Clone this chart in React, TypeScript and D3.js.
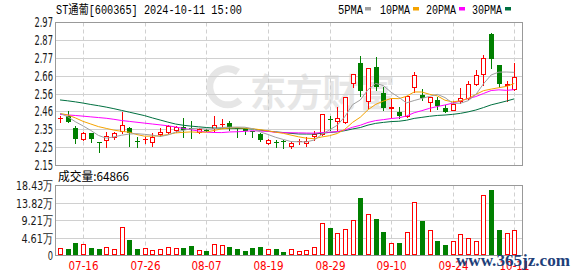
import React from "react";
import * as d3 from "d3";

const dates = [
  "07-11","07-12","07-15","07-16","07-17","07-18","07-19","07-22","07-23","07-24",
  "07-25","07-26","07-29","07-30","07-31","08-01","08-02","08-05","08-06","08-07",
  "08-08","08-09","08-12","08-13","08-14","08-15","08-16","08-19","08-20","08-21",
  "08-22","08-23","08-26","08-27","08-28","08-29","08-30","09-02","09-03","09-04",
  "09-05","09-06","09-09","09-10","09-11","09-12","09-13","09-18","09-19","09-20",
  "09-23","09-24","09-25","09-26","09-27","09-30","10-08","10-09","10-10","10-11",
];

const opens = [
  2.418, 2.433, 2.36, 2.299, 2.332, 2.28, 2.293, 2.312, 2.345, 2.36,
  2.29, 2.297, 2.284, 2.326, 2.341, 2.35, 2.37, 2.362, 2.338, 2.352,
  2.36, 2.383, 2.389, 2.362, 2.362, 2.343, 2.326, 2.275, 2.28, 2.286,
  2.261, 2.285, 2.275, 2.318, 2.327, 2.414, 2.404, 2.395, 2.618, 2.733,
  2.517, 2.712, 2.565, 2.479, 2.452, 2.433, 2.595, 2.553, 2.514, 2.521,
  2.479, 2.464, 2.515, 2.534, 2.616, 2.674, 2.903, 2.722, 2.607, 2.588,
];
const highs = [
  2.433, 2.46, 2.375, 2.338, 2.335, 2.28, 2.338, 2.341, 2.452, 2.366,
  2.31, 2.312, 2.332, 2.36, 2.38, 2.375, 2.42, 2.403, 2.36, 2.358,
  2.433, 2.414, 2.403, 2.362, 2.362, 2.345, 2.332, 2.3, 2.293, 2.293,
  2.288, 2.297, 2.309, 2.345, 2.442, 2.43, 2.48, 2.538, 2.672, 2.775,
  2.705, 2.77, 2.6, 2.536, 2.484, 2.546, 2.684, 2.586, 2.542, 2.54,
  2.492, 2.515, 2.592, 2.63, 2.696, 2.783, 2.905, 2.722, 2.63, 2.737,
];
const lows = [
  2.398, 2.395, 2.275, 2.292, 2.284, 2.223, 2.255, 2.299, 2.332, 2.26,
  2.255, 2.275, 2.26, 2.318, 2.332, 2.34, 2.312, 2.303, 2.332, 2.345,
  2.345, 2.366, 2.35, 2.312, 2.326, 2.312, 2.288, 2.27, 2.255, 2.25,
  2.25, 2.268, 2.26, 2.295, 2.32, 2.35, 2.35, 2.39, 2.6, 2.546,
  2.475, 2.578, 2.465, 2.427, 2.418, 2.426, 2.57, 2.524, 2.458, 2.47,
  2.454, 2.464, 2.507, 2.527, 2.607, 2.607, 2.708, 2.6, 2.517, 2.582,
];
const closes = [
  2.42, 2.395, 2.297, 2.332, 2.297, 2.276, 2.318, 2.332, 2.38, 2.332,
  2.286, 2.299, 2.309, 2.341, 2.375, 2.368, 2.35, 2.357, 2.355, 2.348,
  2.38, 2.386, 2.366, 2.357, 2.345, 2.338, 2.293, 2.293, 2.276, 2.282,
  2.278, 2.288, 2.288, 2.33, 2.442, 2.41, 2.418, 2.538, 2.672, 2.577,
  2.705, 2.597, 2.475, 2.482, 2.431, 2.546, 2.665, 2.536, 2.54, 2.488,
  2.454, 2.502, 2.536, 2.613, 2.664, 2.764, 2.756, 2.616, 2.616, 2.655,
];
const volumes = [
  17800, 16000, 32000, 28400, 18600, 16000, 20400, 15100, 73700, 39900,
  16000, 17800, 13300, 15100, 22000, 18600, 18600, 24000, 12500, 10600,
  28400, 25800, 21300, 16000, 10600, 18600, 21300, 15100, 16000, 8800,
  15100, 10600, 13300, 20400, 84300, 71000, 57700, 68400, 93100, 150800,
  109100, 95800, 61200, 31100, 31900, 60400, 140200, 90500, 65700, 37200,
  26600, 37200, 55000, 44400, 37200, 157000, 170300, 66500, 57700, 64866,
];

// moving-average values before a full window of visible closes exists
const ma5Head = [2.446, 2.427, 2.398, 2.374];
const ma10Head = [2.446, 2.437, 2.42, 2.4, 2.385, 2.37, 2.36, 2.35, 2.343];
const ma20Head = [
  2.44, 2.437, 2.434, 2.43, 2.426, 2.422, 2.418, 2.412, 2.405, 2.4,
  2.395, 2.39, 2.385, 2.38, 2.375, 2.368, 2.36, 2.352, 2.345,
];
const ma30Head = [
  2.523, 2.518, 2.512, 2.505, 2.497, 2.49, 2.482, 2.473, 2.463, 2.453,
  2.443, 2.433, 2.42, 2.408, 2.396, 2.385, 2.378, 2.373, 2.369, 2.365,
  2.362, 2.361, 2.36, 2.36, 2.359, 2.356, 2.35, 2.344, 2.34,
];

const priceTickLabels = ["2.97", "2.87", "2.77", "2.66", "2.56", "2.46", "2.35", "2.25", "2.15"];
const volTickLabels = ["18.43万", "13.82万", "9.21万", "4.61万", "0"];
const xTickDates = ["07-16", "07-26", "08-07", "08-19", "08-29", "09-10", "09-24", "10-11"];
const legendNames = ["5PMA", "10PMA", "20PMA", "30PMA"];

const UP = "#ff0000";
const DOWN = "#008000";
const MA_COLORS = ["#a0a0a0", "#f5a300", "#ff00ff", "#007040"];
const GRID = "#d0d0d0";
const FRAME = "#999999";

function movingAvg(n: number, head: number[]): number[] {
  return closes.map((_, i) =>
    i < n - 1 ? head[i] : (d3.mean(closes.slice(i - n + 1, i + 1)) as number)
  );
}

function labelWidth(s: string): number {
  let w = 0;
  for (const ch of s) {
    if (ch === ".") w += 2.7;
    else if (ch === "万") w += 13;
    else if (ch === "-") w += 4;
    else w += 5.3;
  }
  return w;
}

export default function App() {
  const W = 578;
  const H = 276;
  const x = d3.scaleLinear().domain([0, dates.length - 1]).range([60, 514.3]);
  const yP = d3.scaleLinear().domain([2.15, 2.97]).range([165, 22]);
  const yV = d3.scaleLinear().domain([0, 184300]).range([255, 185]);

  const left = 55.5;
  const right = 522.5;
  const pTop = Math.round(yP(2.97)) + 0.5;
  const pBot = Math.round(yP(2.15)) + 0.5;
  const vTop = Math.round(yV(184300)) + 0.5;
  const vBot = Math.round(yV(0)) + 0.5;

  const pTicks = priceTickLabels.map((lab, k) => ({
    lab,
    y: Math.round(yP(2.97 - (k * (2.97 - 2.15)) / (priceTickLabels.length - 1))) + 0.5,
  }));
  const vTicks = volTickLabels.map((lab, k) => ({
    lab,
    y: Math.round(yV(184300 - (k * 184300) / (volTickLabels.length - 1))) + 0.5,
  }));
  const xTicks = xTickDates.map((d) => {
    const i = dates.indexOf(d);
    return { d, x: Math.round(x(i)) + 0.5 };
  });

  const mas = [
    movingAvg(5, ma5Head),
    movingAvg(10, ma10Head),
    movingAvg(20, ma20Head),
    movingAvg(30, ma30Head),
  ];
  const line = d3
    .line<number>()
    .x((_, i) => x(i))
    .y((v) => yP(v));

  const isUp = (i: number) =>
    closes[i] > opens[i] || (closes[i] === opens[i] && (i === 0 || closes[i] >= closes[i - 1]));

  const candles = dates.map((d, i) => {
    const cx = Math.round(x(i));
    const o = opens[i];
    const c = closes[i];
    const yTop = Math.round(yP(Math.max(o, c)));
    const yBot = Math.round(yP(Math.min(o, c)));
    const yH = Math.round(yP(highs[i]));
    const yL = Math.round(yP(lows[i]));
    const up = isUp(i);
    const col = up ? UP : DOWN;
    const bodyH = yBot - yTop;
    if (up) {
      return (
        <g key={d}>
          {yH < yTop && <line x1={cx + 0.5} x2={cx + 0.5} y1={yH} y2={yTop} stroke={col} />}
          {yL > yBot && <line x1={cx + 0.5} x2={cx + 0.5} y1={yBot + 1} y2={yL + 1} stroke={col} />}
          {bodyH >= 1 ? (
            <rect x={cx - 1.5} y={yTop + 0.5} width={4} height={bodyH} fill="#fff" stroke={col} />
          ) : (
            <line x1={cx - 2} x2={cx + 3} y1={yTop + 0.5} y2={yTop + 0.5} stroke={col} />
          )}
        </g>
      );
    }
    return (
      <g key={d}>
        <line x1={cx + 0.5} x2={cx + 0.5} y1={yH} y2={yL + 1} stroke={col} />
        <rect x={cx - 2} y={yTop} width={5} height={Math.max(bodyH, 1)} fill={col} />
      </g>
    );
  });

  const vbars = volumes.map((v, i) => {
    const cx = Math.round(x(i));
    const base = Math.round(yV(0));
    const yt = Math.round(yV(v));
    const up = isUp(i);
    if (up) {
      return (
        <rect key={i} x={cx - 1.5} y={yt + 0.5} width={4} height={Math.max(base - yt - 1, 0)}
          fill="#fff" stroke={UP} />
      );
    }
    return <rect key={i} x={cx - 2} y={yt} width={5} height={base - yt} fill={DOWN} />;
  });

  const monoFont = "'Liberation Mono', 'Noto Sans CJK SC', monospace";
  const axisFont = "'DejaVu Sans', Verdana, sans-serif";

  const legendX = [338, 380, 426, 472];

  return (
    <svg width={W} height={H} viewBox={`0 0 ${W} ${H}`}
      style={{ position: "absolute", left: 0, top: 0, background: "#fff" }}>
      <rect x={0} y={0} width={W} height={H} fill="#fff" />

      {/* watermark */}
      <g fill="none" stroke="#e6e6e6" strokeWidth={7}>
        <path d="M 238 72 A 18 18 0 1 0 240 100" />
      </g>
      <text x={250} y={106} fontSize={38} fontWeight="bold" fill="#e6e6e6"
        fontFamily="'Noto Sans CJK SC', sans-serif" textLength={145} lengthAdjust="spacingAndGlyphs">
        东方财富
      </text>

      {/* title & legend */}
      <text x={56} y={13.5} fontSize={12} fontFamily={monoFont} fill="#000"
        textLength={186} lengthAdjust="spacingAndGlyphs">
        ST通葡[600365] 2024-10-11 15:00
      </text>
      {legendNames.map((n, k) => (
        <g key={n}>
          <text x={legendX[k]} y={13.5} fontSize={12} fontFamily={monoFont} fill="#000"
            textLength={n.length * 6 + (n.length === 4 ? 1 : 0)} lengthAdjust="spacingAndGlyphs">
            {n}
          </text>
          <rect x={legendX[k] + (n.length === 4 ? 27 : 33)} y={7} width={6} height={3.5} fill={MA_COLORS[k]} />
        </g>
      ))}

      {/* price grid */}
      {pTicks.slice(1, -1).map((t) => (
        <line key={t.lab} x1={left} x2={right} y1={t.y} y2={t.y} stroke={GRID} />
      ))}
      {xTicks.map((t) => (
        <line key={"pv" + t.d} x1={t.x} x2={t.x} y1={pTop} y2={pBot} stroke={GRID}
          strokeDasharray="4,3" />
      ))}
      <rect x={left} y={pTop} width={right - left} height={pBot - pTop} fill="none" stroke={FRAME} />
      {pTicks.map((t) => (
        <text key={"pl" + t.lab} x={53} y={t.y} dy="0.36em" textAnchor="end" fontSize={13.5}
          fontFamily={axisFont} fill="#1a1a1a" textLength={labelWidth(t.lab)} lengthAdjust="spacingAndGlyphs">
          {t.lab}
        </text>
      ))}

      {/* candles */}
      <g shapeRendering="crispEdges">{candles}</g>

      {/* moving averages */}
      {mas
        .map((m, k) => ({ m, k }))
        .reverse()
        .map(({ m, k }) => (
          <path key={"ma" + k} d={line(m) || ""} fill="none" stroke={MA_COLORS[k]} strokeWidth={1} />
        ))}

      {/* volume panel */}
      <text x={58} y={181} fontSize={12} fontFamily="'Noto Sans CJK SC', sans-serif" fill="#000"
        textLength={71} lengthAdjust="spacingAndGlyphs">
        成交量:{volumes[volumes.length - 1]}
      </text>
      {vTicks.slice(1, -1).map((t) => (
        <line key={"vg" + t.lab} x1={left} x2={right} y1={t.y} y2={t.y} stroke={GRID} />
      ))}
      {xTicks.map((t) => (
        <line key={"vv" + t.d} x1={t.x} x2={t.x} y1={vTop} y2={vBot} stroke={GRID}
          strokeDasharray="4,3" />
      ))}
      <rect x={left} y={vTop} width={right - left} height={vBot - vTop} fill="none" stroke={FRAME} />
      {vTicks.map((t) => (
        <text key={"vl" + t.lab} x={53} y={t.y} dy="0.36em" textAnchor="end" fontSize={12.5}
          fontFamily={axisFont} fill="#1a1a1a" textLength={labelWidth(t.lab)} lengthAdjust="spacingAndGlyphs">
          {t.lab}
        </text>
      ))}
      <g shapeRendering="crispEdges">{vbars}</g>

      {/* x labels */}
      {xTicks.map((t) => (
        <text key={"xl" + t.d} x={t.x} y={270} textAnchor="middle" fontSize={11.5}
          fontFamily={axisFont} fill="#ff0000" textLength={30} lengthAdjust="spacingAndGlyphs">
          {t.d}
        </text>
      ))}

      {/* site watermark */}
      <text x={456} y={266} fontSize={16} fontWeight="bold" fontFamily="'Liberation Serif', serif"
        fill="#1e3f7a" textLength={114} lengthAdjust="spacingAndGlyphs">
        www.365jz.com
      </text>
    </svg>
  );
}
